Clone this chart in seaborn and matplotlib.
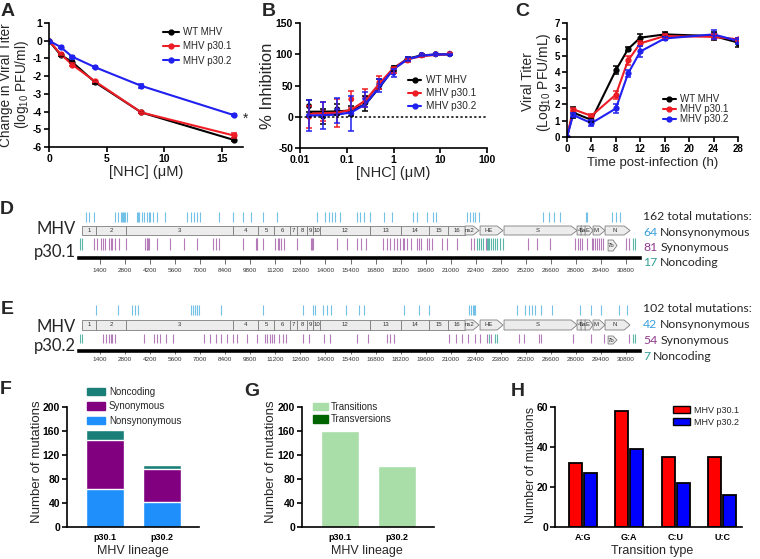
import numpy as np
import pandas as pd
import seaborn as sns
import matplotlib.pyplot as plt
from matplotlib.lines import Line2D
from matplotlib.patches import Patch, Polygon, Rectangle

W, H = 760, 559

# ---------------- data ----------------
strains = ['WT MHV', 'MHV p30.1', 'MHV p30.2']
strain_colors = ['black', '#ee1c25', '#2020f0']

# A: change in titer vs NHC
nhc_a = [0, 1, 2, 4, 8, 16]
a_wt = [0, -0.8, -1.2, -2.35, -4.05, -5.6]
a_p301 = [0, -0.75, -1.35, -2.3, -4.05, -5.35]
a_p302 = [0, -0.35, -0.9, -1.5, -2.55, -4.2]
a_wt_err = [0, 0.05, 0.05, 0.1, 0.05, 0.08]
a_p301_err = [0, 0.05, 0.08, 0.05, 0.05, 0.15]
a_p302_err = [0, 0.05, 0.05, 0.05, 0.1, 0.05]

# B: % inhibition
nhc_b = [0.015625, 0.03125, 0.0625, 0.125, 0.25, 0.5, 1, 2, 4, 8, 16]
b_wt = [17, 0, 12, 10, 22, 52, 78, 92, 99, 100, 100]
b_p301 = [0, 8, 6, 28, 30, 55, 75, 90, 98, 100, 101]
b_p302 = [2, 2, 10, 5, 28, 50, 70, 92, 99, 100, 100]
b_wt_err = [10, 12, 9, 8, 12, 8, 4, 3, 2, 1, 1]
b_p301_err = [18, 15, 22, 14, 14, 10, 5, 3, 2, 1, 1]
b_p302_err = [25, 22, 20, 28, 12, 10, 6, 3, 2, 1, 1]
b_wt_fit = [8, 8, 8.5, 10, 20, 47, 77, 93, 98, 99.5, 100]
b_p301_fit = [5, 5.5, 6.5, 11, 26, 53, 78, 92, 97, 99, 100]
b_p302_fit = [2, 2.5, 3.5, 7, 20, 48, 76, 92, 98, 99.5, 100]

# C: growth kinetics
hpi = [0, 1, 4, 8, 10, 12, 16, 24, 28]
c_wt = [0, 1.5, 1.05, 4.1, 5.4, 6.1, 6.3, 6.2, 5.8]
c_p301 = [0, 1.7, 1.3, 2.6, 4.7, 5.75, 6.2, 6.15, 6.0]
c_p302 = [0, 1.35, 0.85, 1.75, 3.9, 5.25, 6.05, 6.3, 5.9]
c_wt_err = [0, 0.35, 0.1, 0.25, 0.1, 0.2, 0.15, 0.25, 0.25]
c_p301_err = [0, 0.1, 0.1, 0.25, 0.25, 0.15, 0.1, 0.15, 0.1]
c_p302_err = [0, 0.15, 0.2, 0.3, 0.2, 0.35, 0.1, 0.3, 0.2]

# D/E: genome maps (nt positions)
gene_names = ['1', '2', '3', '4', '5', '6', '7', '8', '9', '10', '12', '13', '14', '15', '16',
              'ns2', 'HE', 'S', '4', '5a', 'E', 'M', 'N']
gene_start = [391, 1174, 2851, 8832, 10230, 11124, 12019, 12410, 12969, 13304, 13696, 16490,
              18223, 19789, 20851, 21801, 22640, 23980, 28062, 28286, 28509, 28956, 29627]
gene_end = [1174, 2851, 8832, 10230, 11124, 12019, 12410, 12969, 13304, 13696, 16490, 18223,
            19789, 20851, 21801, 22584, 23925, 28062, 28509, 28733, 28956, 29627, 31024]
gene_arrow = [False] * 15 + [True] * 8
orf7b = ['7b', 29795, 30298]
genome_ticks = list(range(1400, 30801, 1400))

nonsyn_p301 = [615, 783, 1062, 2236, 2404, 2571, 2650, 2683, 2740, 2795, 2907, 3466, 3500, 3578,
               3745, 3857, 4025, 4137, 4200, 4360, 4584, 5031, 6261, 6484, 6652, 6820, 6987,
               8050, 8832, 9391, 9838, 10509, 11292, 13528, 13975, 14199, 14366, 14534, 14814,
               15764, 15932, 16155, 16490, 17273, 17720, 18894, 19118, 19677, 20012, 20180,
               21913, 22081, 22248, 22360, 22584, 26161, 26497, 26776, 27112, 28565, 28621,
               30018, 30242, 30466]
syn_p301 = [1062, 1230, 1453, 1565, 1700, 1901, 2000, 2068, 2236, 2460, 2851, 3913, 4025, 4050,
            4081, 4110, 4584, 5311, 6093, 6820, 7714, 7882, 8050, 9391, 10118, 10150, 10174,
            10509, 11180, 11348, 11400, 11515, 11683, 12410, 13192, 13250, 13304, 14646, 15205,
            15764, 15987, 16267, 17217, 17441, 17609, 17832, 18000, 18168, 18335, 18400, 18559,
            18783, 19118, 19200, 19341, 19677, 19789, 19956, 20515, 20795, 21354, 22136, 22304,
            22975, 25323, 25826, 26553, 27950, 28118, 28200, 28341, 28621, 28901, 28950, 29068,
            29180, 29292, 29400, 29516, 30801, 30969]
nonc_p301 = [280, 391, 22472, 22584, 22696, 22807, 23031, 23087, 23143, 23254, 23366, 23478,
             23590, 23758, 23925, 31192, 31304]

nonsyn_p302 = [1174, 2404, 3186, 3354, 3522, 6484, 6596, 6708, 6800, 6820, 6932, 8161, 10509,
               12745, 13304, 13416, 13863, 14087, 14311, 15149, 15876, 16155, 18391, 19230,
               19789, 22025, 22136, 22248, 22304, 22360, 24708, 25155, 25379, 25547, 25714,
               26050, 26665, 28230, 28844, 29403, 30410, 30857]
syn_p302 = [1565, 1733, 1901, 2000, 2068, 2236, 3857, 4416, 4584, 4752, 5087, 5478, 7211, 7547,
            7882, 8161, 8497, 8832, 9056, 9615, 10174, 10621, 10733, 10900, 11000, 11124, 11404,
            11627, 11795, 12745, 13081, 13919, 14255, 15764, 16379, 17441, 17609, 17832, 20907,
            21298, 21633, 21969, 22360, 22640, 23031, 23254, 24820, 25099, 25938, 26050, 27838,
            28844, 29571, 30969]
nonc_p302 = [280, 391, 23143, 23478, 23590, 31192, 31304]

count_words = ['Nonsynonymous', 'Synonymous', 'Noncoding']
count_colors = ['#3a9fdc', '#8e3a8e', '#2e9e96']
counts_p301 = [64, 81, 17]
counts_p302 = [42, 54, 7]

# F / G / H
lineage = ['p30.1', 'p30.2']
f_nonsyn = [64, 42]
f_syn = [81, 54]
f_nonc = [17, 7]
g_transitions = [160, 102]
g_transversions = [2, 1]
trans_types = ['A:G', 'G:A', 'C:U', 'U:C']
h_p301 = [32, 58, 35, 35]
h_p302 = [27, 39, 22, 16]

# ---------------- style ----------------
sns.set_theme(style='ticks')
plt.rcParams['font.family'] = ['Liberation Sans', 'DejaVu Sans']
plt.rcParams['mathtext.default'] = 'regular'
plt.rcParams['axes.unicode_minus'] = False
plt.rcParams['axes.linewidth'] = 1.2
plt.rcParams['axes.edgecolor'] = 'black'
plt.rcParams['xtick.major.width'] = 1.2
plt.rcParams['ytick.major.width'] = 1.2
plt.rcParams['xtick.major.size'] = 3.5
plt.rcParams['ytick.major.size'] = 3.5
plt.rcParams['xtick.color'] = 'black'
plt.rcParams['ytick.color'] = 'black'

fig = plt.figure(figsize=(W / 100, H / 100), dpi=100)


def px_axes(x0, y0, x1, y1):
    return fig.add_axes([x0 / W, 1 - y1 / H, (x1 - x0) / W, (y1 - y0) / H])


def ftext(x, y, s, **kw):
    return fig.text(x / W, 1 - y / H, s, **kw)


def prism_ticks(ax, xticks, xlabels, yticks, xsize=7.5, ysize=7.5):
    sns.despine(ax=ax)
    ax.minorticks_off()
    ax.set_xticks(xticks, [str(v) for v in xlabels], fontweight='bold', fontsize=xsize)
    ax.set_yticks(yticks, [str(v) for v in yticks], fontweight='bold', fontsize=ysize)
    ax.tick_params(pad=1.5)
    ax.set_xlabel('')
    ax.set_ylabel('')


def long_df(x, ys):
    return pd.concat([pd.DataFrame({'x': x, 'y': y, 'strain': n}) for n, y in zip(strains, ys)],
                     ignore_index=True)


pal = dict(zip(strains, strain_colors))


def titer_panel(ax, x, ys, errs, fit=None):
    if fit is None:
        sns.lineplot(data=long_df(x, ys), x='x', y='y', hue='strain', palette=pal, estimator=None,
                     sort=False, lw=1.5, marker='o', markersize=4.5, markeredgewidth=0,
                     legend=False, ax=ax)
    else:
        sns.lineplot(data=long_df(x, fit), x='x', y='y', hue='strain', palette=pal,
                     estimator=None, sort=False, lw=1.6, legend=False, ax=ax)
        sns.scatterplot(data=long_df(x, ys), x='x', y='y', hue='strain', palette=pal, s=18,
                        linewidth=0, legend=False, ax=ax)
    for y, e, c in zip(ys, errs, strain_colors):
        ax.errorbar(x, y, yerr=e, fmt='none', ecolor=c, elinewidth=1.1, capsize=2.5,
                    capthick=1.1)


def line_legend(ax, x, y, fs, spacing, hl):
    handles = [Line2D([], [], color=c, marker='o', ms=3.5, lw=1.5) for c in strain_colors]
    ax.legend(handles, strains, loc='upper left', bbox_to_anchor=(x / W, 1 - y / H),
              bbox_transform=fig.transFigure, frameon=False, fontsize=fs, labelspacing=spacing,
              handlelength=hl, handletextpad=0.5, borderpad=0, borderaxespad=0)


# ---------------- A ----------------
axA = px_axes(49, 23, 243, 147)
titer_panel(axA, nhc_a, [a_wt, a_p301, a_p302], [a_wt_err, a_p301_err, a_p302_err])
axA.set_xlim(0, 16.8)
axA.set_ylim(-6, 1)
prism_ticks(axA, [0, 5, 10, 15], [0, 5, 10, 15], [1, 0, -1, -2, -3, -4, -5, -6])
line_legend(axA, 163, 27, 7, 0.45, 1.6)
ftext(246, 119, '*', fontsize=10, ha='center', va='center')
ftext(15, 85, 'Change in Viral Titer\n(log$_{10}$ PFU/ml)', fontsize=9.8, rotation=90,
      ha='center', va='center', linespacing=1.05)
ftext(146, 172, '[NHC] (\u03bcM)', fontsize=10.5, ha='center', va='center')

# ---------------- B ----------------
axB = px_axes(300, 23, 487, 148)
axB.set_xscale('log')
titer_panel(axB, nhc_b, [b_wt, b_p301, b_p302], [b_wt_err, b_p301_err, b_p302_err],
            fit=[b_wt_fit, b_p301_fit, b_p302_fit])
axB.axhline(0, color='black', ls=(0, (1.5, 1.5)), lw=1.1)
axB.set_xlim(0.01, 100)
axB.set_ylim(-50, 150)
prism_ticks(axB, [0.01, 0.1, 1, 10, 100], ['0.01', '0.1', '1', '10', '100'],
            [-50, 0, 50, 100, 150])
line_legend(axB, 408, 75, 7.2, 0.3, 1.3)
ftext(268, 86, '% Inhibition', fontsize=12, rotation=90, ha='center', va='center')
ftext(393, 173, '[NHC] (\u03bcM)', fontsize=10.5, ha='center', va='center')

# ---------------- C ----------------
axC = px_axes(567, 23, 738, 137)
titer_panel(axC, hpi, [c_wt, c_p301, c_p302], [c_wt_err, c_p301_err, c_p302_err])
axC.set_xlim(0, 28)
axC.set_ylim(0, 7)
c_xt = [0, 4, 8, 12, 16, 20, 24, 28]
prism_ticks(axC, c_xt, c_xt, list(range(0, 8)), 7, 7)
line_legend(axC, 663, 94, 7, 0.0, 1.3)
ftext(537, 82, 'Viral Titer\n(Log$_{10}$ PFU/mL)', fontsize=10, rotation=90, ha='center',
      va='center', linespacing=1.05)
ftext(653, 163, 'Time post-infection (h)', fontsize=9.5, ha='center', va='center')

# ---------------- D / E genome maps ----------------
c_ns, c_syn, c_nc = '#74c1e8', '#b57bb9', '#5bb6a7'


def draw_gene(ax, name, s, e, arrow, row, fs=4.3):
    y0, y1 = row
    if arrow:
        tip = min(330, 0.45 * (e - s))
        pts = [(s, y0), (e - tip, y0), (e, (y0 + y1) / 2), (e - tip, y1), (s, y1)]
        ax.add_patch(Polygon(pts, closed=True, fc='#ececec', ec='#7d7d7d', lw=0.6))
        cx = (s + e - tip) / 2
    else:
        ax.add_patch(Rectangle((s, y0), e - s, y1 - y0, fc='#ececec', ec='#7d7d7d', lw=0.6))
        cx = (s + e) / 2
    ax.text(cx, (y0 + y1) / 2, name, ha='center', va='center', fontsize=fs, color='#333333')


def genome_map(ax, nonsyn, syn, nonc, blue_row, bar_row, low_row, tick_len, tick_pad):
    ax.set_xlim(0, 31580)
    ax.set_ylim(0, 53)
    ax.vlines(nonsyn, *blue_row, color=c_ns, lw=0.8)
    ax.vlines(syn, *low_row, color=c_syn, lw=0.8)
    ax.vlines(nonc, *low_row, color=c_nc, lw=0.8)
    for name, s, e, arrow in zip(gene_names, gene_start, gene_end, gene_arrow):
        draw_gene(ax, name, s, e, arrow, bar_row)
    draw_gene(ax, orf7b[0], orf7b[1], orf7b[2], True, (low_row[0] - 1, low_row[1] - 2))
    for side in ['left', 'right', 'top']:
        ax.spines[side].set_visible(False)
    ax.spines['bottom'].set_linewidth(2.6)
    ax.spines['bottom'].set_bounds(250, 31580)
    ax.set_yticks([])
    ax.set_xticks(genome_ticks, [str(t) for t in genome_ticks])
    ax.tick_params(axis='x', length=tick_len, width=0.6, color='#555555', labelsize=4.6,
                   labelcolor='#333333', pad=tick_pad)
    ax.patch.set_alpha(0)


axD = px_axes(75, 205, 640, 258)
genome_map(axD, nonsyn_p301, syn_p301, nonc_p301, (36, 46), (23, 32), (8, 20), 4, 3.5)
axE = px_axes(75, 298, 640, 351)
genome_map(axE, nonsyn_p302, syn_p302, nonc_p302, (36, 46), (21, 31), (8, 17), 2.5, 1.5)

side_font = ['Lato', 'DejaVu Sans']
ftext(76, 229, 'MHV', fontsize=12, family=side_font, ha='right', va='center')
ftext(76, 257, 'p30.1', fontsize=12, family=side_font, ha='right', va='baseline')
ftext(76, 327, 'MHV', fontsize=12, family=side_font, ha='right', va='center')
ftext(76, 351, 'p30.2', fontsize=12, family=side_font, ha='right', va='baseline')

renderer = fig.canvas.get_renderer()


def mutation_counts(y_top, step, total, counts):
    ftext(643, y_top, f'{total} total mutations:', fontsize=8.8, family=side_font, va='center')
    for i, (n, word, col) in enumerate(zip(counts, count_words, count_colors)):
        y = y_top + step * (i + 1)
        t = ftext(643, y, str(n), fontsize=8.8, family=side_font, color=col, va='center')
        bb = t.get_window_extent(renderer)
        ftext(bb.x1 + 3, y, word, fontsize=8.8, family=side_font, va='center')


mutation_counts(217, 15.3, 162, counts_p301)
mutation_counts(308, 16.3, 102, counts_p302)

# ---------------- F ----------------
axF = px_axes(67, 407, 199, 527)
f_total = [a + b + c for a, b, c in zip(f_nonsyn, f_syn, f_nonc)]
f_mid = [a + b for a, b in zip(f_nonsyn, f_syn)]
c_fnc, c_fsyn, c_fns = '#1b7f79', '#800080', '#1f8ffc'
sns.barplot(x=lineage, y=f_total, color=c_fnc, width=0.67, saturation=1, ax=axF)
sns.barplot(x=lineage, y=f_mid, color=c_fsyn, width=0.67, saturation=1, ax=axF)
sns.barplot(x=lineage, y=f_nonsyn, color=c_fns, width=0.67, saturation=1, ax=axF)
axF.set_xlim(-0.667, 1.65)
axF.set_ylim(0, 200)
prism_ticks(axF, [0, 1], lineage, [0, 40, 80, 120, 160, 200], 6.5, 7.5)
axF.tick_params(axis='x', length=0, pad=4)
axF.legend([Patch(color=c) for c in [c_fnc, c_fsyn, c_fns]],
           ['Noncoding', 'Synonymous', 'Nonsynonymous'], loc='upper left',
           bbox_to_anchor=(87 / W, 1 - 387 / H), bbox_transform=fig.transFigure, frameon=False,
           fontsize=7, labelspacing=0.45, handlelength=1.9, handleheight=0.8,
           handletextpad=0.35, borderpad=0, borderaxespad=0)
ftext(37, 462, 'Number of mutations', fontsize=9.5, rotation=90, ha='center', va='center')
ftext(133, 551, 'MHV lineage', fontsize=9, ha='center', va='center')

# ---------------- G ----------------
axG = px_axes(302, 407, 434, 527)
g_total = [a + b for a, b in zip(g_transitions, g_transversions)]
c_ts, c_tv = '#a9dea9', '#006400'
sns.barplot(x=lineage, y=g_total, color=c_tv, width=0.67, saturation=1, ax=axG)
sns.barplot(x=lineage, y=g_transitions, color=c_ts, width=0.67, saturation=1, ax=axG)
axG.set_xlim(-0.67, 1.66)
axG.set_ylim(0, 200)
prism_ticks(axG, [0, 1], lineage, [0, 40, 80, 120, 160, 200], 6.5, 7.5)
axG.tick_params(axis='x', length=0, pad=4)
axG.legend([Patch(color=c) for c in [c_ts, c_tv]], ['Transitions', 'Transversions'],
           loc='upper left', bbox_to_anchor=(313 / W, 1 - 402 / H),
           bbox_transform=fig.transFigure, frameon=False, fontsize=7, labelspacing=0.25,
           handlelength=1.5, handleheight=0.8, handletextpad=0.3, borderpad=0,
           borderaxespad=0)
ftext(271, 462, 'Number of mutations', fontsize=9.5, rotation=90, ha='center', va='center')
ftext(367, 551, 'MHV lineage', fontsize=9, ha='center', va='center')

# ---------------- H ----------------
axH = px_axes(555, 407, 742, 527)
h_df = pd.DataFrame({'type': trans_types * 2, 'n': h_p301 + h_p302,
                     'lineage': ['MHV p30.1'] * 4 + ['MHV p30.2'] * 4})
c_hr, c_hb = '#ff0000', '#0000ff'
sns.barplot(data=h_df, x='type', y='n', hue='lineage', palette=[c_hr, c_hb], width=0.65,
            gap=0.15, edgecolor='black', linewidth=1.3, saturation=1, legend=False, ax=axH)
axH.set_xlim(-0.6, 3.43)
axH.set_ylim(0, 60)
prism_ticks(axH, [0, 1, 2, 3], trans_types, [0, 20, 40, 60], 6.5, 7.5)
axH.tick_params(axis='x', length=0, pad=4)
axH.legend([Patch(fc=c, ec='black', lw=1) for c in [c_hr, c_hb]], ['MHV p30.1', 'MHV p30.2'],
           loc='upper left', bbox_to_anchor=(673 / W, 1 - 406 / H),
           bbox_transform=fig.transFigure, frameon=False, fontsize=6.5, labelspacing=0.3,
           handlelength=1.9, handleheight=0.8, handletextpad=0.4, borderpad=0,
           borderaxespad=0)
ftext(531, 465, 'Number of mutations', fontsize=9, rotation=90, ha='center', va='center')
ftext(652, 551, 'Transition type', fontsize=9, ha='center', va='center')

# ---------------- panel letters ----------------
for letter, x, y in [('A', 8, 12), ('B', 269, 12), ('C', 522, 12), ('D', 7, 210),
                     ('E', 7, 309), ('F', 6, 390), ('G', 252, 392), ('H', 518, 392)]:
    ftext(x, y, letter, fontsize=14, fontweight='bold', ha='center', va='center')

fig.savefig('out.png', dpi=100)
